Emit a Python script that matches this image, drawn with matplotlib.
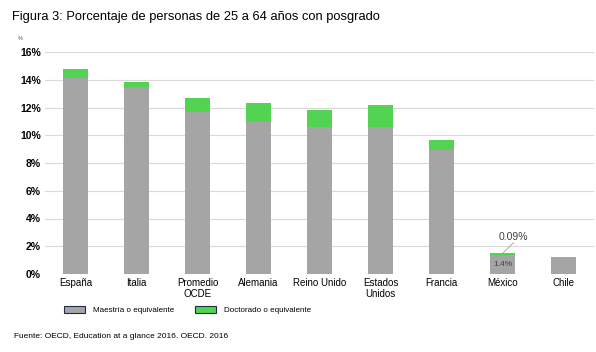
import numpy as np
import matplotlib
matplotlib.use('Agg')
import matplotlib.pyplot as plt
from matplotlib.patches import Patch

plt.rcParams['font.family'] = ['Liberation Sans', 'DejaVu Sans']

paises = ["España", "Italia", "Promedio\nOCDE", "Alemania", "Reino Unido",
          "Estados\nUnidos", "Francia", "México", "Chile"]
maestria = [14.15, 13.5, 11.7, 10.95, 10.6, 10.6, 8.95, 1.4, 1.25]
doctorado = [0.6, 0.35, 1.0, 1.35, 1.2, 1.6, 0.7, 0.09, 0.0]

gris = "#a5a5a5"
verde = "#52d452"

fig = plt.figure(figsize=(5.96, 3.52), dpi=100)
ax = fig.add_axes([45 / 596, 1 - 274 / 352, 549 / 596, 222 / 352])

x = np.arange(len(paises))
ax.bar(x, maestria, width=0.4, color=gris, zorder=2)
ax.bar(x, doctorado, width=0.4, bottom=maestria, color=verde, zorder=2)

ax.set_xlim(-0.5, len(paises) - 0.5)
ax.set_ylim(0, 16)
ax.set_yticks(np.arange(0, 17, 2))
ax.set_yticklabels([f"{v}%" for v in range(0, 17, 2)], fontsize=7.5, fontweight='bold')
ax.set_xticks(x)
ax.set_xticklabels(paises, fontsize=7, linespacing=1.1)
ax.tick_params(length=0, pad=3)
ax.grid(axis='y', color='#d9d9d9', linewidth=0.8, zorder=0)
for s in ax.spines.values():
    s.set_visible(False)

# etiquetas de Mexico
mx = paises.index("México")
tope = maestria[mx] + doctorado[mx]
ax.text(mx, maestria[mx] / 2, "1.4%", ha='center', va='center', fontsize=6, color='#404040', zorder=3)
ax.plot([mx, mx + 0.18], [tope, 2.25], color='#a0a0a0', lw=0.6, zorder=3)
ax.text(mx + 0.18, 2.68, "0.09%", fontsize=7.5, color='#404040', ha='center', va='center')

fig.text(12 / 596, 1 - 17 / 352, "Figura 3: Porcentaje de personas de 25 a 64 años con posgrado",
         fontsize=9.3, va='center', ha='left')
fig.text(18 / 596, 1 - 39 / 352, "%", fontsize=4, va='center', ha='left', color='#555555')

handles = [Patch(facecolor=gris, edgecolor='#1f2d4a', lw=0.8),
           Patch(facecolor=verde, edgecolor='#1f2d4a', lw=0.8)]
fig.legend(handles, ["Maestría o equivalente", "Doctorado o equivalente"],
           loc='center left', bbox_to_anchor=(57 / 596, 1 - 310 / 352), ncol=2,
           frameon=False, fontsize=5.8, handlelength=2.6, handleheight=1.1,
           columnspacing=2.6, handletextpad=1.0)

fig.text(14 / 596, 1 - 336 / 352, "Fuente: OECD, Education at a glance 2016. OECD. 2016",
         fontsize=6, va='center', ha='left')

plt.savefig("out.png", dpi=100)
